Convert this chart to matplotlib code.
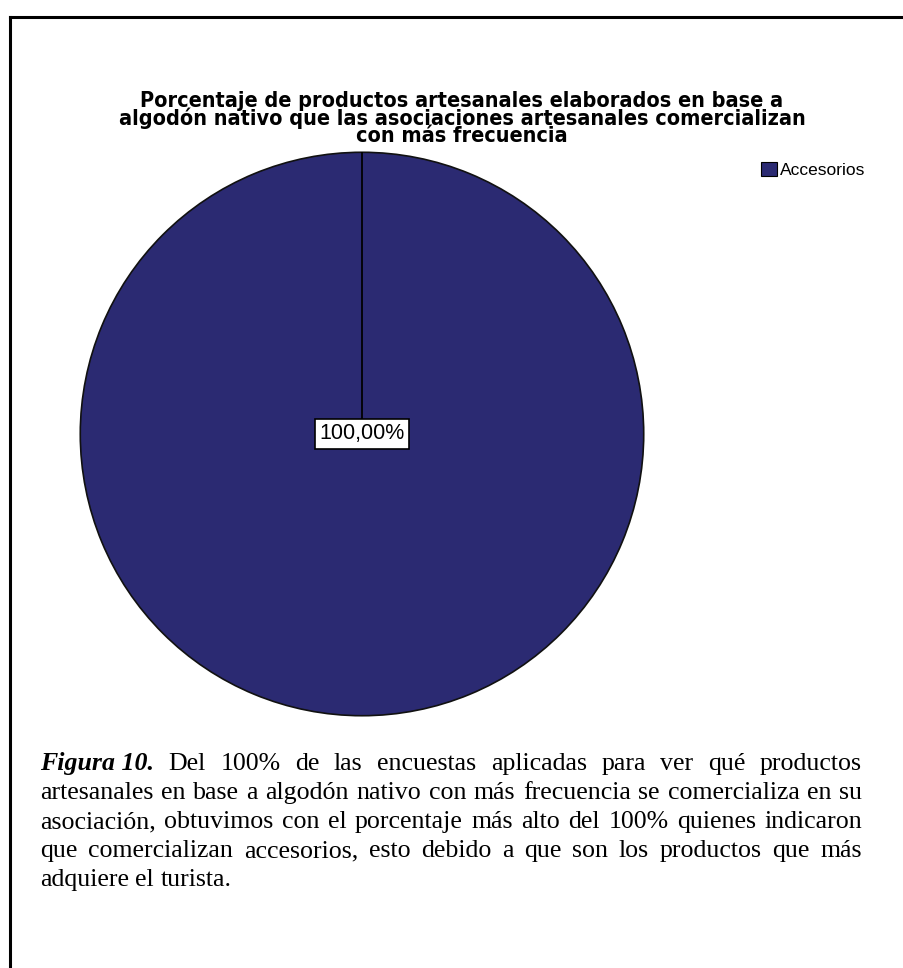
import matplotlib
matplotlib.use("Agg")
import matplotlib.pyplot as plt
from matplotlib.lines import Line2D

# datos del grafico
categorias = ["Accesorios"]
porcentajes = [100.0]
colores = ["#2b2a72"]

titulo = ["Porcentaje de productos artesanales elaborados en base a",
          "algodón nativo que las asociaciones artesanales comercializan",
          "con más frecuencia"]

nota_inicio = "Figura 10."
nota = ["Del 100% de las encuestas aplicadas para ver qué productos",
        "artesanales en base a algodón nativo con más frecuencia se comercializa en su",
        "asociación, obtuvimos con el porcentaje más alto del 100% quienes indicaron",
        "que comercializan accesorios, esto debido a que son los productos que más",
        "adquiere el turista."]

W, H = 904, 968
fig = plt.figure(figsize=(W / 100, H / 100), dpi=100)
fig.patch.set_facecolor("white")

# marco exterior (solo izquierda y arriba)
fig.add_artist(Line2D([10 / W, 10 / W], [0, 1 - 17 / H], color="black", lw=2.2))
fig.add_artist(Line2D([10 / W, 1], [1 - 17 / H, 1 - 17 / H], color="black", lw=2.2))

# pastel
cx, cy, rad = 362, 434, 282
ax = fig.add_axes([(cx - rad) / W, (H - cy - rad) / H, 2 * rad / W, 2 * rad / H])
wedges, textos, autotextos = ax.pie(
    porcentajes, colors=colores, startangle=90, counterclock=False,
    autopct=lambda p: f"{p:.2f}%".replace(".", ","), pctdistance=0,
    wedgeprops=dict(edgecolor="#111111", linewidth=1.2),
    textprops=dict(family=["Liberation Sans", "DejaVu Sans"], fontsize=15.5))
ax.plot([0, 0], [0, 1], color="black", lw=1.3, zorder=1.5)
ax.set_xlim(-1.001, 1.001)
ax.set_ylim(-1.001, 1.001)
ax.axis("off")
for t in autotextos:
    t.set_bbox(dict(facecolor="white", edgecolor="black", boxstyle="square,pad=0.22", lw=1.2))
    t.set_zorder(5)

# leyenda
leg = ax.legend(wedges, categorias, loc="upper left",
                bbox_to_anchor=(761 / W, 1 - 162 / H), bbox_transform=fig.transFigure,
                frameon=False, handlelength=0.9, handleheight=0.9, handletextpad=0.2,
                borderaxespad=0, borderpad=0,
                prop=dict(family=["Liberation Sans", "DejaVu Sans"], size=12.5))
for h in leg.legend_handles:
    h.set_edgecolor("black")
    h.set_linewidth(0.8)

fig.canvas.draw()
r = fig.canvas.get_renderer()


def ancho(s, **kw):
    t = fig.text(0, 0, s, **kw)
    w = t.get_window_extent(r).width
    t.remove()
    return w


# titulo en tres lineas, negrita condensada
fig.text(462 / W, 1 - 91 / H, "\n".join(titulo), ha="center", va="top",
         multialignment="center", linespacing=0.82,
         family=["DejaVu Sans", "Liberation Sans"], stretch="condensed",
         weight="bold", fontsize=15.5)

# nota al pie justificada
fser = dict(family=["Liberation Serif", "DejaVu Serif"], fontsize=10)
fneg = dict(fser, weight="bold", style="italic")
x0, x1 = 40, 862
lineas = [[(nota_inicio, fneg)] + [(p, fser) for p in nota[0].split()]]
lineas += [[(p, fser) for p in l.split()] for l in nota[1:]]
mayor = max(ancho(" ".join(w for w, _ in l), **fser) for l in lineas[:-1])
sn = 10 * (x1 - x0) * 0.985 / mayor
for f in (fser, fneg):
    f["fontsize"] = sn
for i, (l, yb) in enumerate(zip(lineas, [770, 799, 828, 857, 886])):
    anchos = [ancho(w, **f) for w, f in l]
    if i < len(lineas) - 1:
        hueco = (x1 - x0 - sum(anchos)) / (len(l) - 1)
    else:
        hueco = ancho("a b", **fser) - ancho("ab", **fser)
    x = x0
    for (w, f), a in zip(l, anchos):
        fig.text(x / W, 1 - yb / H, w, ha="left", va="baseline", **f)
        x += a + hueco

fig.savefig("out.png", dpi=100, facecolor="white")
